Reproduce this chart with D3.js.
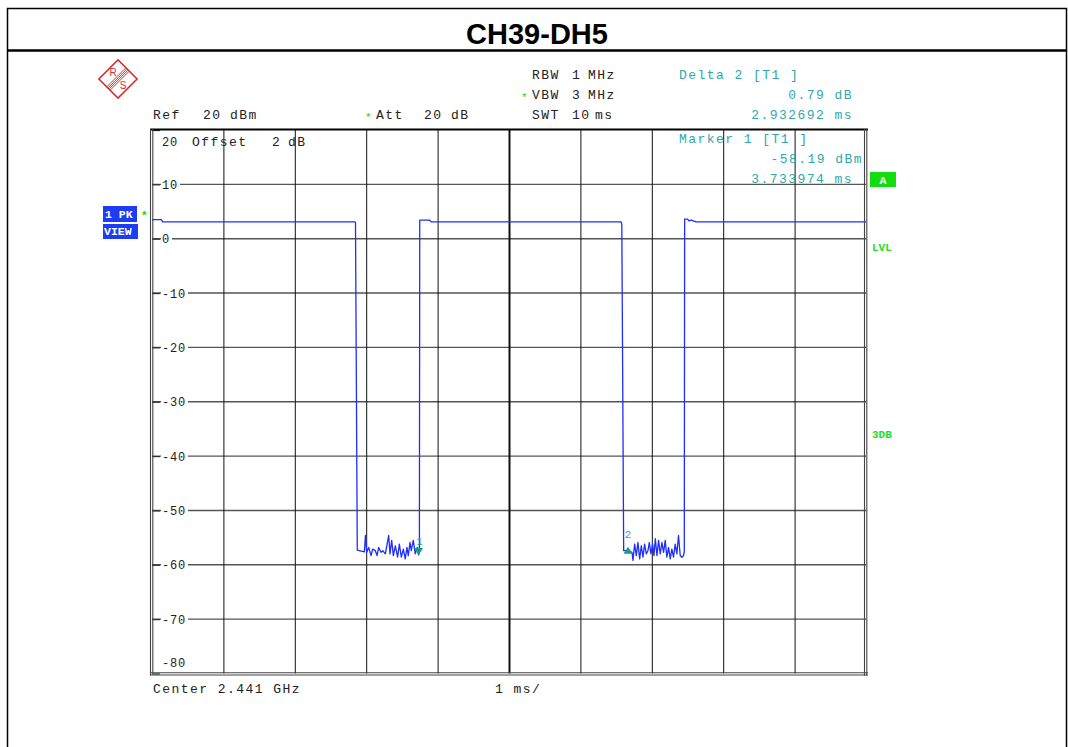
<!DOCTYPE html>
<html>
<head>
<meta charset="utf-8">
<title>CH39-DH5</title>
<script src="https://cdn.jsdelivr.net/npm/d3@7"></script>
<style>
    body { margin: 0; background: #fff; }
    svg text { font-family: "Liberation Mono", "DejaVu Sans Mono", monospace; }
    .hdr { font-size: 13px; letter-spacing: 1.45px; fill: #222; }
    .teal { font-size: 13px; letter-spacing: 1.45px; fill: #2fa8a8; }
    .tag { font-size: 11.5px; font-weight: bold; fill: #fff; }
    .grn { font-size: 11px; font-weight: bold; fill: #22dd22; }
</style>
</head>
<body>
<svg id="chart" width="1068" height="747"></svg>
<script>
    const title = "CH39-DH5";
    const xTicks = [1, 2, 3, 4, 5, 6, 7, 8, 9];
    const yTicks = [20, 10, 0, -10, -20, -30, -40, -50, -60, -70, -80];

    // trace: time (ms) and level (dBm)
    const traceMs = [0, 0.13, 0.15, 2.84, 2.85, 2.875, 2.93, 2.975, 2.989, 3.007, 3.035, 3.068, 3.091, 3.128,
        3.152, 3.175, 3.208, 3.231, 3.268, 3.315, 3.333, 3.357, 3.380, 3.408, 3.440, 3.464, 3.492, 3.520,
        3.547, 3.571, 3.589, 3.613, 3.631, 3.659, 3.687, 3.715, 3.734, 3.745, 3.75, 3.89, 3.91,
        6.57, 6.58, 6.606, 6.667, 6.723, 6.736, 6.760, 6.783, 6.806, 6.830, 6.853, 6.876, 6.899, 6.923,
        6.946, 6.965, 6.988, 7.011, 7.030, 7.049, 7.072, 7.095, 7.118, 7.142, 7.165, 7.188, 7.211, 7.235,
        7.258, 7.281, 7.304, 7.328, 7.351, 7.374, 7.398, 7.421, 7.444, 7.455, 7.46, 7.50, 7.52, 7.55, 7.62, 10];
    const traceDb = [3.5, 3.5, 3.1, 3.1, 3.0, -57.3, -57.5, -57.6, -54.6, -57.7, -56.8, -58.3, -57.1, -57.4,
        -58.3, -56.8, -57.7, -57.4, -58.0, -54.6, -58.0, -55.5, -58.3, -56.5, -58.6, -56.2, -58.6, -57.1,
        -58.9, -56.8, -58.3, -55.9, -57.4, -55.5, -58.0, -56.8, -58.19, -57.8, 3.4, 3.4, 3.1,
        3.1, 2.6, -57.4, -57.4, -57.7, -59.2, -56.2, -58.3, -55.9, -58.9, -56.5, -58.6, -56.2, -58.0,
        -57.4, -55.9, -58.0, -56.2, -58.3, -55.2, -58.3, -55.5, -58.0, -55.9, -57.7, -55.5, -58.6, -56.8,
        -58.9, -57.1, -58.6, -56.2, -58.0, -54.6, -58.3, -58.6, -58.3, -57.6, 3.6, 3.6, 3.3, 3.4, 3.1, 3.1];

    const markerNames = ["1", "2"];
    const markerMs = [3.733974, 6.666666];
    const markerDb = [-58.19, -57.40];

    draw();

    function draw() {
        const svg = d3.select("#chart");

        function txt(x, y, s, cls, anchor) {
            return svg.append("text").attr("x", x).attr("y", y).attr("class", cls)
                .attr("text-anchor", anchor || "start").text(s);
        }

        // outer frame + title box
        svg.append("path")
            .attr("d", "M7.5,747 V8.5 H1066.5 V747")
            .attr("fill", "none").attr("stroke", "#000").attr("stroke-width", 1.5);
        svg.append("line")
            .attr("x1", 7).attr("x2", 1067).attr("y1", 50.5).attr("y2", 50.5)
            .attr("stroke", "#000").attr("stroke-width", 2.5);
        svg.append("text")
            .attr("x", 537).attr("y", 44).attr("text-anchor", "middle")
            .style("font-family", "'Liberation Sans', Arial, sans-serif")
            .style("font-weight", "bold").style("font-size", "29px")
            .text(title);

        // R&S logo
        var logo = svg.append("g").attr("transform", "translate(118,79)");
        var rot = logo.append("g").attr("transform", "rotate(45)");
        rot.append("rect").attr("x", -13.5).attr("y", -13.5).attr("width", 27).attr("height", 27)
            .attr("fill", "none").attr("stroke", "#d42a2a").attr("stroke-width", 1.5);
        [-2.4, -0.8, 0.8, 2.4].forEach(function(o) {
            rot.append("line").attr("x1", o).attr("x2", o).attr("y1", -13).attr("y2", 13)
                .attr("stroke", "#d42a2a").attr("stroke-width", 0.9);
        });
        logo.append("text").attr("x", -5).attr("y", -3).attr("text-anchor", "middle")
            .style("font-family", "'Liberation Sans', sans-serif").style("font-size", "10px")
            .attr("fill", "#d42a2a").text("R");
        logo.append("text").attr("x", 5).attr("y", 10).attr("text-anchor", "middle")
            .style("font-family", "'Liberation Sans', sans-serif").style("font-size", "10px")
            .attr("fill", "#d42a2a").text("S");

        // header settings
        txt(153, 119, "Ref", "hdr"); txt(203, 119, "20", "hdr"); txt(230, 119, "dBm", "hdr");
        txt(365, 121, "*", "hdr").style("fill", "#22cc22").style("font-size", "11px");
        txt(376, 119, "Att", "hdr"); txt(424, 119, "20", "hdr"); txt(451, 119, "dB", "hdr");
        txt(532, 79, "RBW", "hdr"); txt(572, 79, "1", "hdr"); txt(588, 79, "MHz", "hdr");
        txt(521, 101, "*", "hdr").style("fill", "#22cc22").style("font-size", "11px");
        txt(532, 99, "VBW", "hdr"); txt(572, 99, "3", "hdr"); txt(588, 99, "MHz", "hdr");
        txt(532, 119, "SWT", "hdr"); txt(572, 119, "10", "hdr"); txt(595, 119, "ms", "hdr");

        txt(679, 79, "Delta 2 [T1 ]", "teal");
        txt(853, 99, "0.79 dB", "teal", "end");
        txt(853, 119, "2.932692 ms", "teal", "end");

        // plot area
        var pLeft = 152, pRight = 866, pTop = 130, pBottom = 673.5;
        var x = d3.scaleLinear().domain([0, 10]).range([pLeft, pRight]);
        var y = d3.scaleLinear().domain([-80, 20]).range([pBottom, pTop]);

        svg.append("g").attr("class", "hgrid")
            .selectAll("line")
            .data(yTicks.filter(d => d < 20 && d > -80))
            .enter().append("line")
            .attr("x1", pLeft).attr("x2", pRight)
            .attr("y1", d => y(d)).attr("y2", d => y(d))
            .attr("stroke", "#555").attr("stroke-width", 1.4);

        var xAxis = svg.append("g")
            .attr("transform", `translate(0,${pBottom})`)
            .call(d3.axisBottom(x).tickValues(xTicks).tickSize(-(pBottom - pTop)).tickFormat(""))
            .call(g => g.select(".domain").remove());
        xAxis.selectAll(".tick line").attr("stroke", "#111")
            .attr("stroke-width", d => d === 5 ? 2 : 1);

        var yAxis = svg.append("g")
            .attr("transform", `translate(${pLeft},0)`)
            .call(d3.axisRight(y).tickValues(yTicks).tickSize(8).tickPadding(2).tickFormat(d => String(d)))
            .call(g => g.select(".domain").remove());
        yAxis.selectAll(".tick line").attr("stroke", "#333").attr("stroke-width", 1.2);
        yAxis.selectAll(".tick text")
            .attr("fill", "#222")
            .style("font-family", "'Liberation Mono', monospace")
            .style("font-size", "12px").style("letter-spacing", "0.8px")
            .attr("dy", d => d === 20 ? "1.3em" : d === -80 ? "-0.55em" : "0.33em");
        yAxis.selectAll(".tick").each(function(d) {
            var t = d3.select(this).select("text");
            var b = t.node().getBBox();
            if (d < 20 && d > -80) {
                d3.select(this).insert("rect", "text")
                    .attr("x", b.x - 1).attr("y", b.y + 1).attr("width", b.width + 3).attr("height", b.height - 2)
                    .attr("fill", "#fff");
            }
        });
        // "Offset 2 dB" sits beside the top label
        txt(192, 146, "Offset", "hdr"); txt(272, 146, "2", "hdr"); txt(288, 146, "dB", "hdr");

        // marker readout inside the grid
        txt(679, 143, "Marker 1 [T1 ]", "teal");
        txt(863, 163, "-58.19 dBm", "teal", "end");
        txt(853, 183, "3.733974 ms", "teal", "end");

        // borders
        svg.append("line").attr("x1", 150).attr("x2", 868).attr("y1", 129.5).attr("y2", 129.5)
            .attr("stroke", "#000").attr("stroke-width", 2);
        [[150.5, 150.5, 129, 675.5], [152.8, 152.8, 129, 673.2], [864.5, 864.5, 129, 675.5], [866.8, 866.8, 129, 675.5],
         [150, 868, 672.8, 672.8], [150, 868, 675, 675]].forEach(function(l) {
            svg.append("line").attr("x1", l[0]).attr("x2", l[1]).attr("y1", l[2]).attr("y2", l[3])
                .attr("stroke", "#444").attr("stroke-width", 1.1);
        });

        // trace
        var line = d3.line().x(i => x(traceMs[i])).y(i => y(traceDb[i]));
        svg.append("path")
            .attr("d", line(d3.range(traceMs.length)))
            .attr("fill", "none").attr("stroke", "#1f2dff").attr("stroke-width", 1.3)
            .attr("stroke-linejoin", "round");

        // markers
        markerNames.forEach(function(m, i) {
            var g = svg.append("g").attr("transform", `translate(${x(markerMs[i])},${y(markerDb[i])})`);
            if (i === 0) {
                g.append("path").attr("d", "M-4.5,-7 L4.5,-7 L0,0 Z").attr("fill", "#1a9a8c");
                g.append("text").attr("x", 1).attr("y", -10).attr("text-anchor", "middle")
                    .style("font-size", "10px").attr("fill", "#1a9a8c").text(m);
            } else {
                g.append("path").attr("d", "M-4.5,3 L4.5,3 L0,-4 Z").attr("fill", "#1a9a8c");
                g.append("text").attr("x", 0).attr("y", -13).attr("text-anchor", "middle")
                    .style("font-size", "11px").attr("fill", "#2fa8a8").text(m);
            }
        });

        // side tags
        svg.append("rect").attr("x", 103).attr("y", 206).attr("width", 34).attr("height", 16).attr("fill", "#1f3cf5");
        txt(105, 218, "1 PK", "tag");
        svg.append("rect").attr("x", 103).attr("y", 224).attr("width", 35).attr("height", 15).attr("fill", "#1f3cf5");
        txt(104, 235, "VIEW", "tag");
        txt(141, 219, "*", "grn").style("fill", "#22cc22");

        svg.append("rect").attr("x", 870).attr("y", 172).attr("width", 26).attr("height", 15).attr("fill", "#11dd11");
        txt(883, 184, "A", "tag", "middle");
        txt(872, 251, "LVL", "grn");
        txt(872, 438, "3DB", "grn");

        // footer
        txt(153, 693, "Center 2.441 GHz", "hdr");
        txt(495, 693, "1 ms/", "hdr");
    }
</script>
</body>
</html>
